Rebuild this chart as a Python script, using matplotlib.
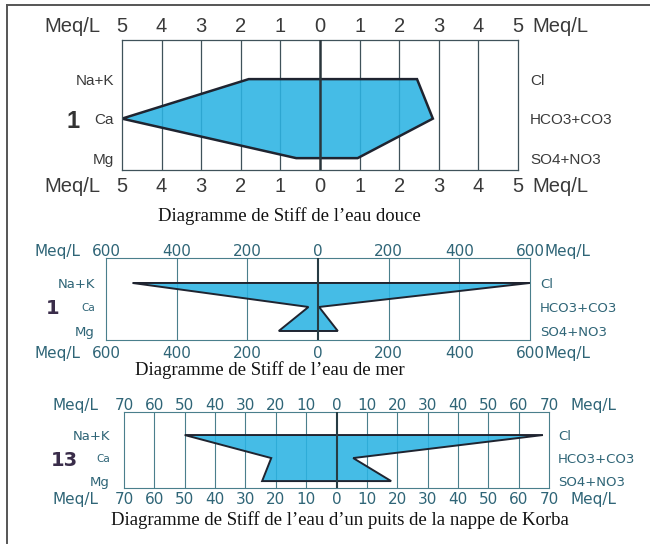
import matplotlib
matplotlib.use('Agg')
import matplotlib.pyplot as plt
from matplotlib.lines import Line2D
from matplotlib.colors import to_rgba
import numpy as np

# ions (same order on every diagram, top to bottom)
ions_left = ['Na+K', 'Ca', 'Mg']
ions_right = ['Cl', 'HCO3+CO3', 'SO4+NO3']
rows = [2, 1, 0]

# meq/L
douce_cations = [1.8, 5.0, 0.6]
douce_anions = [2.45, 2.85, 0.95]
mer_cations = [525, 27, 111]
mer_anions = [600, 3, 56]
korba_cations = [50, 21.5, 24.5]
korba_anions = [68, 5.5, 18]

sample_ids = ['1', '1', '13']
captions = [
    "Diagramme de Stiff de l\u2019eau douce",
    "Diagramme de Stiff de l\u2019eau de mer",
    "Diagramme de Stiff de l\u2019eau d\u2019un puits de la nappe de Korba",
]

W, H = 650, 546
FILL = '#2bb3e3'
EDGE = '#1f2430'

fig = plt.figure(figsize=(W / 100, H / 100), dpi=100)


def px_axes(box):
    x0, y0, x1, y1 = box
    return fig.add_axes([x0 / W, 1 - y1 / H, (x1 - x0) / W, (y1 - y0) / H])


def label(ax, text, xy, coords, off, **kw):
    ax.annotate(text, xy=xy, xycoords=coords, xytext=off,
                textcoords='offset pixels', annotation_clip=False, **kw)


def stiff(cations, anions, num, caption, st):
    ax = px_axes(st['box'])
    lim, step = st['lim'], st['step']
    ax.set_xlim(-lim, lim)
    ax.set_ylim(*st['ylim'])
    ax.set_xticks([])
    ax.set_yticks([])
    for s in ax.spines.values():
        s.set_color(st['grid'])
        s.set_linewidth(st['grid_lw'])

    ticks = np.arange(-lim, lim + step / 2, step)
    for t in ticks[1:-1]:
        if t == 0:
            ax.axvline(t, color=st['zero'], lw=st['zero_lw'], zorder=3)
        else:
            ax.axvline(t, color=st['grid'], lw=st['grid_lw'], zorder=1)

    xs = [-c for c in cations] + anions[::-1]
    ys = rows + rows[::-1]
    ax.fill(xs, ys, facecolor=to_rgba(FILL, 0.88), edgecolor=EDGE,
            lw=st['edge_lw'], joinstyle='miter', zorder=2)

    tk = dict(fontsize=st['tick_fs'], family=st['font'], color=st['text'],
              ha='center', va='center_baseline')
    for t in ticks:
        txt = f'{abs(t):g}'
        label(ax, txt, (t, 1), ('data', 'axes fraction'), (0, st['dy_top']), **tk)
        label(ax, txt, (t, 0), ('data', 'axes fraction'), (0, -st['dy_bot']), **tk)
    for yy, dy in ((1, st['dy_top']), (0, -st['dy_bot'])):
        label(ax, 'Meq/L', (-lim, yy), ('data', 'axes fraction'),
              (-st['meq_l'], dy), **{**tk, 'ha': 'right'})
        label(ax, 'Meq/L', (lim, yy), ('data', 'axes fraction'),
              (st['meq_r'], dy), **{**tk, 'ha': 'left'})

    ion = dict(family=st['font'], color=st['text'], va='center_baseline')
    for name, r in zip(ions_left, rows):
        fs = st['ca_fs'] if name == 'Ca' else st['ion_fs']
        label(ax, name, (0, r), ('axes fraction', 'data'), (-st['ion_l'], 0),
              ha='right', fontsize=fs, **ion)
    for name, r in zip(ions_right, rows):
        label(ax, name, (1, r), ('axes fraction', 'data'), (st['ion_r'], 0),
              ha='left', fontsize=st['ion_fs'], **ion)

    label(ax, num, (0, rows[1]), ('axes fraction', 'data'), (-st['num_dx'], 0),
          ha='center', va='center_baseline', fontsize=st['num_fs'],
          fontweight='bold', family=st['font'], color=st['num_color'])

    cx, cy = st['cap']
    fig.text(cx / W, 1 - cy / H, caption, ha='center', va='center',
             family='Liberation Serif', fontsize=13.5, color='#111111')
    return ax


style_douce = dict(box=(122, 40, 518, 170), lim=5, step=1, ylim=(-0.30, 2.99),
                   font=['Liberation Sans', 'DejaVu Sans'], text='#3a3a3a',
                   grid='#3f525a', zero='#2a363c', grid_lw=0.9, zero_lw=1.8,
                   edge_lw=1.8, tick_fs=14.5, ion_fs=11, ca_fs=11,
                   dy_top=15, dy_bot=15, meq_l=22, meq_r=14, ion_l=8, ion_r=12,
                   num_dx=49, num_fs=17, num_color='#333333', cap=(289, 216))

style_mer = dict(box=(106, 258, 530, 340), lim=600, step=200, ylim=(-0.375, 3.04),
                 font=['DejaVu Sans'], text='#2f6577',
                 grid='#4a7f8c', zero='#263c44', grid_lw=0.8, zero_lw=1.5,
                 edge_lw=1.4, tick_fs=11, ion_fs=9.5, ca_fs=7.5,
                 dy_top=8, dy_bot=12, meq_l=26, meq_r=14, ion_l=11, ion_r=10,
                 num_dx=53, num_fs=14, num_color='#3a2d4a', cap=(270, 370))

style_korba = dict(box=(124, 412, 549, 488), lim=70, step=10, ylim=(-0.30, 3.0),
                   font=['DejaVu Sans'], text='#2f6577',
                   grid='#4a7f8c', zero='#263c44', grid_lw=0.8, zero_lw=1.5,
                   edge_lw=1.4, tick_fs=11, ion_fs=9.5, ca_fs=7.5,
                   dy_top=8, dy_bot=10, meq_l=26, meq_r=22, ion_l=14, ion_r=9,
                   num_dx=60, num_fs=14, num_color='#3a2d4a', cap=(340, 520))

stiff(douce_cations, douce_anions, sample_ids[0], captions[0], style_douce)
stiff(mer_cations, mer_anions, sample_ids[1], captions[1], style_mer)
stiff(korba_cations, korba_anions, sample_ids[2], captions[2], style_korba)

# page frame (top and left edges only)
fig.add_artist(Line2D([7 / W, 1], [1 - 5 / H] * 2, transform=fig.transFigure,
                      color='#555555', lw=1.4))
fig.add_artist(Line2D([7 / W] * 2, [1 - 5 / H, 1 - 543 / H], transform=fig.transFigure,
                      color='#555555', lw=1.4))

fig.savefig('out.png', dpi=100)
plt.close(fig)
